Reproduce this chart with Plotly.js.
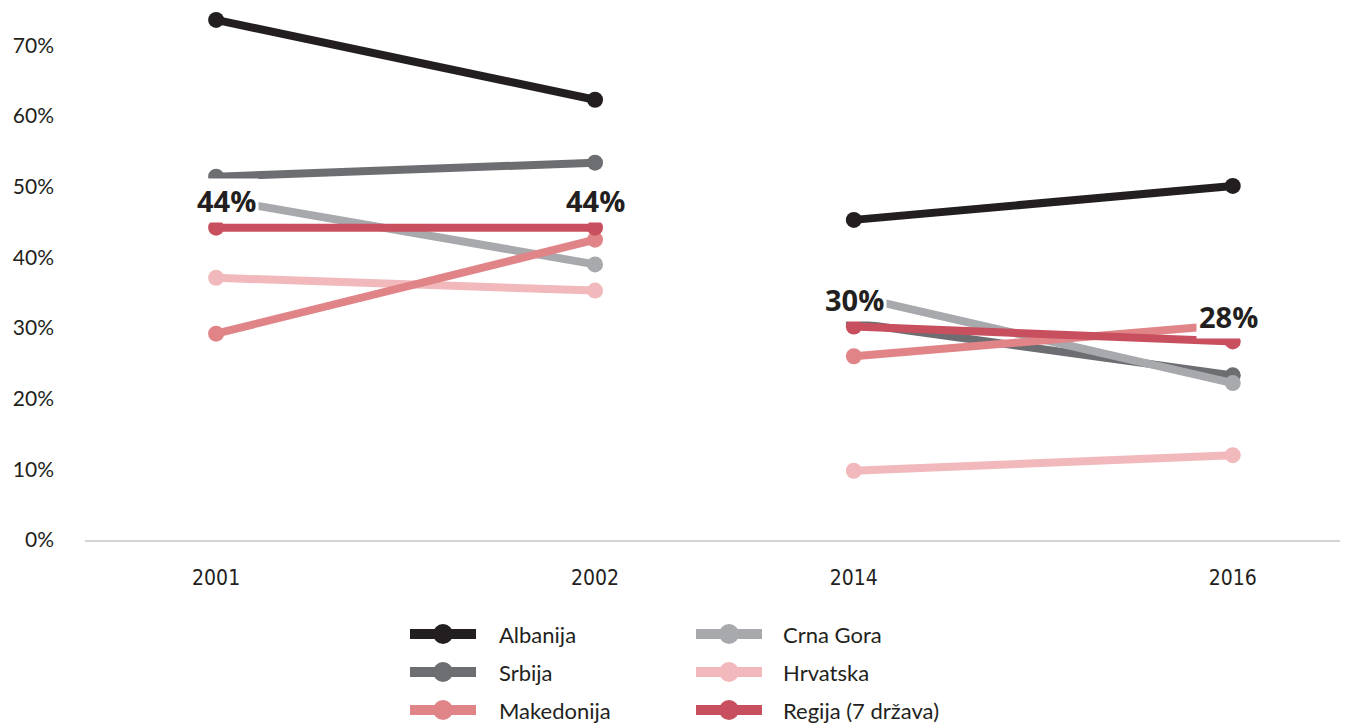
<!DOCTYPE html>
<html>
<head>
<meta charset="utf-8">
<script src="https://cdn.plot.ly/plotly-3.0.1.min.js"></script>
<style>html,body{margin:0;padding:0;background:#fff;}#chart{width:1346px;height:724px;}</style>
</head>
<body>
<div id="chart"></div>
<script>
// ---- data ----
var years = ["2001", "2002", "2014", "2016"];
var albanija   = [0.736, 0.623, 0.453, 0.501];
var srbija     = [0.514, 0.534, 0.307, 0.233];
var crnaGora   = [0.483, 0.390, 0.345, 0.222];
var hrvatska   = [0.371, 0.353, 0.098, 0.120];
var makedonija = [0.292, 0.425, 0.260, 0.305];
var regija     = [0.442, 0.442, 0.302, 0.281];
var regijaLabels = ["44%", "44%", "30%", "28%"];
var yTickVals  = [0, 0.1, 0.2, 0.3, 0.4, 0.5, 0.6, 0.7];
var yTickText  = ["0%", "10%", "20%", "30%", "40%", "50%", "60%", "70%"];

var seriesNames  = ["Albanija", "Srbija", "Crna Gora", "Hrvatska", "Makedonija", "Regija (7 država)"];
var seriesValues = [albanija, srbija, crnaGora, hrvatska, makedonija, regija];
var seriesColors = ["#231f20", "#6d6e71", "#a7a9ac", "#f1b9bb", "#e08488", "#c84f5e"];

// ---- layout helpers ----
var GAP = -0.317; // period gap compresses 2002->2014 distance
function xpos(i) { return i + (i >= 2 ? GAP : 0); }

var xs = [xpos(0), xpos(1), (xpos(1) + xpos(2)) / 2, xpos(2), xpos(3)];
var traces = seriesValues.map(function (v, k) {
  return {
    type: "scatter", mode: "lines+markers",
    x: xs, y: [v[0], v[1], null, v[2], v[3]],
    connectgaps: false,
    name: seriesNames[k],
    line: {color: seriesColors[k], width: 8},
    marker: {color: seriesColors[k], size: 16},
    showlegend: false, hoverinfo: "skip"
  };
});

var annotations = regijaLabels.map(function (t, i) {
  var shifts = [[10, 27], [0, 27], [1, 27], [-4, 25]];
  return {
    x: xpos(i), y: regija[i], xref: "x", yref: "y",
    text: "<b>" + t + "</b>", showarrow: false,
    xshift: shifts[i][0], yshift: shifts[i][1],
    font: {family: "Open Sans, sans-serif", size: 29, color: "#231f20"},
    bgcolor: "#ffffff", borderpad: 2
  };
});

// custom legend (2 columns x 3 rows), placed in pixel space converted to paper
var PL = 85, PR = 1340, PT = 10, PB = 540;
function px2x(p) { return (p - PL) / (PR - PL); }
function py2y(p) { return (PB - p) / (PB - PT); }
var legendOrder = [0, 2, 1, 3, 4, 5];
var shapes = [];
legendOrder.forEach(function (k, n) {
  var col = n % 2, row = Math.floor(n / 2);
  var x0 = col === 0 ? 410 : 696, ly = 634 + row * 38;
  shapes.push({type: "line", xref: "paper", yref: "paper",
    x0: px2x(x0), x1: px2x(x0 + 66), y0: py2y(ly), y1: py2y(ly),
    line: {color: seriesColors[k], width: 10}});
  shapes.push({type: "circle", xref: "paper", yref: "paper",
    xsizemode: "pixel", ysizemode: "pixel",
    xanchor: px2x(x0 + 33), yanchor: py2y(ly),
    x0: -10, x1: 10, y0: -10, y1: 10,
    fillcolor: seriesColors[k], line: {width: 0}});
  annotations.push({xref: "paper", yref: "paper",
    x: px2x(col === 0 ? 497 : 781), y: py2y(ly),
    xanchor: "left", yanchor: "middle", showarrow: false,
    text: seriesNames[k],
    font: {family: "Lato, Noto Sans, sans-serif", size: 22, color: "#231f20"}});
});

var layout = {
  width: 1346, height: 724,
  margin: {l: PL, r: 1346 - PR, t: PT, b: 724 - PB},
  paper_bgcolor: "#ffffff", plot_bgcolor: "#ffffff",
  showlegend: false,
  xaxis: {
    range: [-0.346, 2.966], fixedrange: true,
    tickvals: years.map(function (y, i) { return xpos(i); }),
    ticktext: years,
    showgrid: false, zeroline: false,
    showline: true, linecolor: "#d4d4d4", linewidth: 1.5,
    ticks: "", ticklabelstandoff: 18,
    tickfont: {family: "DejaVu Sans Condensed, Lato, sans-serif", size: 21, color: "#231f20"}
  },
  yaxis: {
    range: [0, 0.75], fixedrange: true,
    tickvals: yTickVals, ticktext: yTickText,
    showgrid: false, zeroline: false, showline: false,
    ticks: "", ticklabelstandoff: 30,
    tickfont: {family: "Lato, Noto Sans, sans-serif", size: 21, color: "#231f20"}
  },
  annotations: annotations,
  shapes: shapes
};

Plotly.newPlot("chart", traces, layout, {displayModeBar: false, staticPlot: true});
</script>
</body>
</html>
